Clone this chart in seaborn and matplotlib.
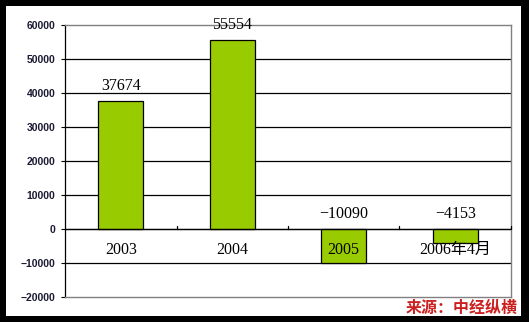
import matplotlib
matplotlib.use("Agg")
import matplotlib.pyplot as plt
import seaborn as sns
import pandas as pd
from matplotlib.patches import Rectangle

categories = ["2003", "2004", "2005", "2006年4月"]
values = [37674, 55554, -10090, -4153]
value_labels = ["37674", "55554", "\u221210090", "\u22124153"]
yticks = [-20000, -10000, 0, 10000, 20000, 30000, 40000, 50000, 60000]
source_text = "来源：中经纵横"

sns.set_theme(style="white")
plt.rcParams['font.family'] = ['DejaVu Sans', 'Noto Sans CJK SC']
plt.rcParams['axes.unicode_minus'] = True

W, H = 529, 322
fig = plt.figure(figsize=(W / 100, H / 100), dpi=100)
fig.patch.set_facecolor("black")
# white inner panel
fig.add_artist(Rectangle((6 / W, 1 - 316 / H), (521 - 6) / W, (316 - 6) / H,
                         transform=fig.transFigure, facecolor="white",
                         edgecolor="none", zorder=0))

x0, x1, y0, y1 = 65, 511, 25, 297
ax = fig.add_axes([x0 / W, 1 - y1 / H, (x1 - x0) / W, (y1 - y0) / H])
ax.set_facecolor("white")

df = pd.DataFrame({"cat": categories, "val": values})
sns.barplot(data=df, x="cat", y="val", ax=ax, color="#99CC00", width=0.4,
            edgecolor="black", linewidth=0.9, saturation=1, zorder=3)
for p in ax.patches:
    p.set_facecolor("#99CC00")

ax.set_xlim(-0.5, 3.5)
ax.set_ylim(-20000, 60000)
ax.set_yticks(yticks)
ax.set_yticklabels([f"{t}".replace("-", "\u2212") for t in yticks],
                   fontsize=7.5, color="#1a1a33", fontweight="bold",
                   family=["Liberation Sans", "DejaVu Sans"])
ax.tick_params(axis="y", length=3, width=0.8, color="black", left=True, pad=4)
ax.set_xticks([])
ax.set_xlabel("")
ax.set_ylabel("")

for t in yticks:
    if t not in (-20000, 60000):
        ax.axhline(t, color="black", linewidth=0.9, zorder=1)
ax.axhline(0, color="black", linewidth=0.9, zorder=4)

# category boundary ticks on the zero line
for b in [0.5, 1.5, 2.5, 3.5]:
    ax.plot([b, b], [0, 1000], color="black", linewidth=0.9, zorder=4,
            clip_on=False)

for s in ["top", "right", "bottom"]:
    ax.spines[s].set_color("#808080")
    ax.spines[s].set_linewidth(1.0)
ax.spines["left"].set_color("black")
ax.spines["left"].set_linewidth(0.9)

serif = ["Liberation Serif", "Noto Sans CJK SC"]
for i, (v, lab) in enumerate(zip(values, value_labels)):
    ax.text(i, max(v, 0) + 2000, lab, ha="center", va="bottom",
            fontsize=11.5, family=serif, color="black", zorder=5)
    ax.text(i, -6300, categories[i], ha="center", va="center",
            fontsize=11.5, family=serif, color="black", zorder=5)

fig.text(518 / W, 1 - 308 / H, source_text, ha="right", va="center",
         fontsize=11.5, color="#cc2020", fontweight="bold", style="italic",
         family=["Noto Sans CJK SC", "DejaVu Sans"], zorder=10)

fig.savefig("out.png", dpi=100, facecolor=fig.get_facecolor())
